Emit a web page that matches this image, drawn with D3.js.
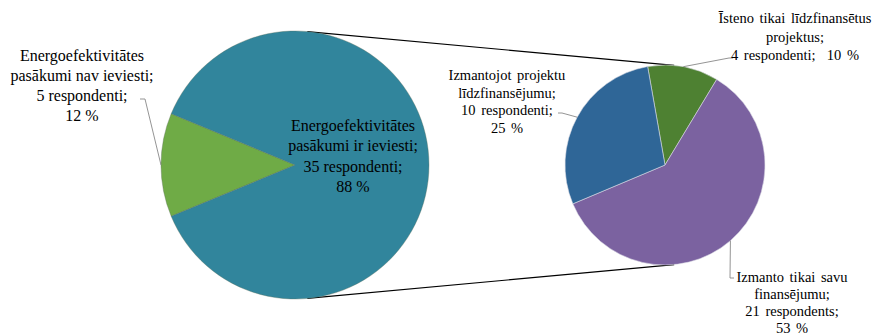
<!DOCTYPE html>
<html>
<head>
<meta charset="utf-8">
<script src="https://cdn.jsdelivr.net/npm/d3@7"></script>
<style>
  body { margin: 0; background: #fff; }
  svg { display: block; }
</style>
</head>
<body>
<svg width="875" height="335"></svg>
<script>
// main pie: the "nav ieviesti" slice first, the split-off slice second
var mainNames = ['Energoefektivitātes pasākumi nav ieviesti', 'Energoefektivitātes pasākumi ir ieviesti'];
var mainValues = [5, 35];
var mainPct = ['12 %', '88 %'];
var mainLines = [
    ['Energoefektivitātes', 'pasākumi nav ieviesti;', '5 respondenti;', '12 %'],
    ['Energoefektivitātes', 'pasākumi ir ieviesti;', '35 respondenti;', '88 %']
];
var mainColors = ['#6fab46', '#31859c'];

// secondary pie, breaking down the 35 "ir ieviesti"
var subNames = ['Īsteno tikai līdzfinansētus projektus', 'Izmanto tikai savu finansējumu', 'Izmantojot projektu līdzfinansējumu'];
var subValues = [4, 21, 10];
var subPct = ['10 %', '53 %', '25 %'];
var subLines = [
    ['Īsteno tikai līdzfinansētus', 'projektus;', '4 respondenti;  10 %'],
    ['Izmanto tikai savu', 'finansējumu;', '21 respondents;', '53 %'],
    ['Izmantojot projektu', 'līdzfinansējumu;', '10 respondenti;', '25 %']
];
var subColors = ['#4e8132', '#7b62a0', '#2f6697'];

var svg = d3.select('svg');
var fontFamily = 'Liberation Serif';

var main = { cx: 295, cy: 165, r: 134 };
var sub = { cx: 665, cy: 165, r: 100 };
var rad = Math.PI / 180;

// connector lines (outer tangents of the two circles)
var dist = sub.cx - main.cx;
var theta = Math.asin((main.r - sub.r) / dist);
[-1, 1].forEach(s => {
    var nx = Math.sin(theta), ny = s * Math.cos(theta);
    svg.append('line')
        .attr('x1', main.cx + main.r * nx).attr('y1', main.cy + main.r * ny)
        .attr('x2', sub.cx + sub.r * nx).attr('y2', sub.cy + sub.r * ny)
        .attr('stroke', '#000')
        .attr('stroke-width', 1.2);
});

// main pie, the small slice centred on the left side
var half = Math.PI * mainValues[0] / d3.sum(mainValues);
var mainPie = d3.pie().sort(null)
    .startAngle(1.5 * Math.PI - half)
    .endAngle(3.5 * Math.PI - half);
var mainArc = d3.arc().innerRadius(0).outerRadius(main.r);
var mainData = mainPie(mainValues);

var gMain = svg.append('g').attr('transform', `translate(${main.cx},${main.cy})`);
gMain.selectAll('path')
    .data(mainData)
    .enter().append('path')
    .attr('d', mainArc)
    .attr('fill', (d, i) => mainColors[i])
    .attr('stroke', 'rgba(90,110,90,0.6)')
    .attr('stroke-width', 0.6);

// secondary pie
var subPie = d3.pie().sort(null)
    .startAngle(-10 * rad)
    .endAngle(350 * rad);
var subArc = d3.arc().innerRadius(0).outerRadius(sub.r);
var subData = subPie(subValues);

var gSub = svg.append('g').attr('transform', `translate(${sub.cx},${sub.cy})`);
gSub.selectAll('path')
    .data(subData)
    .enter().append('path')
    .attr('d', subArc)
    .attr('fill', (d, i) => subColors[i])
    .attr('stroke', 'rgba(220,220,230,0.8)')
    .attr('stroke-width', 0.7);

function edgePoint(c, d) {
    var a = (d.startAngle + d.endAngle) / 2;
    return [c.cx + c.r * Math.sin(a), c.cy - c.r * Math.cos(a)];
}

// label boxes: centre x, first line middle y, line step, font size, elbow of the leader
var mainLabelPos = [
    { x: 82, y: 55, step: 20, size: 16, leader: [[140, 99], [145, 99]] },
    { x: 353, y: 125, step: 20.5, size: 16, leader: null }
];
var subLabelPos = [
    { x: 795, y: 18, step: 18.5, size: 14.5, leader: [[733, 58], [729, 58]] },
    { x: 792, y: 277, step: 17, size: 14.5, leader: [[734, 278], [730, 278]] },
    { x: 507, y: 75, step: 17.5, size: 14.5, leader: [[558, 113], [562, 113]] }
];

function drawLabels(lines, pos, data, c) {
    lines.forEach((ls, i) => {
        var p = pos[i];
        if (p.leader) {
            var pts = p.leader.concat([edgePoint(c, data[i])]);
            svg.append('path')
                .attr('d', d3.line()(pts))
                .attr('fill', 'none')
                .attr('stroke', '#888')
                .attr('stroke-width', 0.9);
        }
        var t = svg.append('text')
            .attr('text-anchor', 'middle')
            .style('font-family', fontFamily)
            .style('font-size', p.size + 'px')
            .attr('fill', '#000')
            .style('white-space', 'pre')
            .attr('word-spacing', p.size < 16 ? 2 : 0);
        ls.forEach((s, j) => {
            t.append('tspan')
                .attr('x', p.x)
                .attr('y', p.y + j * p.step)
                .attr('dy', '0.35em')
                .text(s);
        });
    });
}

drawLabels(mainLines, mainLabelPos, mainData, main);
drawLabels(subLines, subLabelPos, subData, sub);
</script>
</body>
</html>
